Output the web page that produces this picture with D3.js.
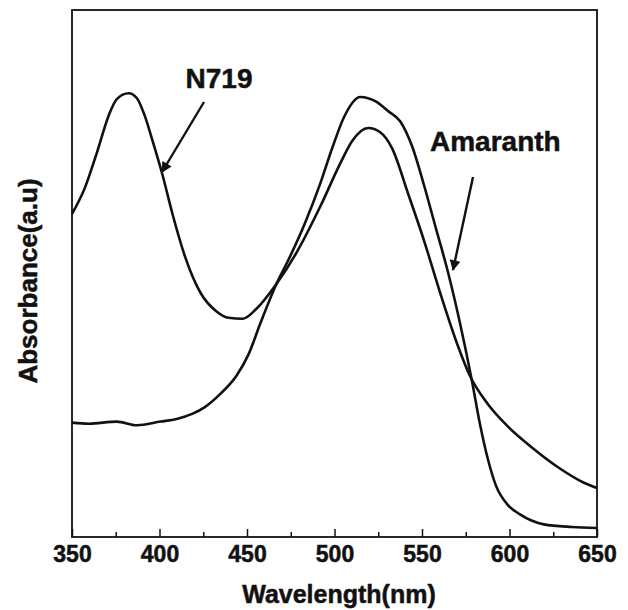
<!DOCTYPE html>
<html>
<head>
<meta charset="utf-8">
<script src="https://cdn.jsdelivr.net/npm/d3@7"></script>
<style>
  body { margin: 0; background: #fff; }
  text { font-family: "Liberation Sans", Arial, sans-serif; font-weight: bold; fill: #111; stroke: #111; stroke-width: 0.5px; }
</style>
</head>
<body>
<div id="chart"></div>
<script>
// wavelength (nm) / absorbance (a.u., normalised)
const n719Wl = [350, 357.3, 364.1, 371, 375.6, 382.4, 387, 391.5, 396, 401.8, 407.5, 414.3, 423.5, 432.6, 439.4, 447.4, 455.4, 466.8, 478.2, 492, 503.3, 510.2, 519.3, 526.1, 533, 542, 551.2, 560.4, 569.5, 577.5, 587.7, 599, 612.8, 628.8, 642.5, 650];
const n719Abs = [0.613, 0.662, 0.728, 0.800, 0.831, 0.842, 0.833, 0.800, 0.752, 0.686, 0.612, 0.535, 0.463, 0.428, 0.416, 0.414, 0.433, 0.480, 0.539, 0.628, 0.709, 0.752, 0.776, 0.768, 0.737, 0.652, 0.562, 0.463, 0.372, 0.305, 0.252, 0.210, 0.170, 0.130, 0.103, 0.093];

const amaWl = [350, 359.6, 375.6, 387, 400.6, 409.8, 419, 425.7, 434.9, 444, 450.8, 457.7, 466.8, 473.7, 482.8, 492, 498.8, 505.6, 514.7, 523.8, 530.7, 537.5, 544.4, 551.2, 558, 564.9, 571.7, 578.6, 583.2, 587.7, 592.2, 599, 606, 619.7, 635.6, 650];
const amaAbs = [0.217, 0.215, 0.219, 0.212, 0.219, 0.224, 0.234, 0.246, 0.272, 0.306, 0.346, 0.406, 0.480, 0.526, 0.593, 0.672, 0.739, 0.798, 0.835, 0.826, 0.808, 0.789, 0.741, 0.667, 0.585, 0.502, 0.406, 0.295, 0.213, 0.147, 0.098, 0.061, 0.043, 0.024, 0.019, 0.017];

const majorTicks = [350, 400, 450, 500, 550, 600, 650];
const minorTicks = [375, 425, 475, 525, 575, 625];

const width = 628, height = 610;
const mLeft = 72, mRight = 597, mTop = 10, mBottom = 537;

const svg = d3.select("#chart").append("svg")
  .attr("width", width)
  .attr("height", height);

const x = d3.scaleLinear().domain([350, 650]).range([mLeft, mRight]);
const y = d3.scaleLinear().domain([0, 1]).range([mBottom, mTop]);

// 下方坐标轴，刻度朝内
const axisG = svg.append("g").attr("transform", `translate(0,${mBottom})`);
axisG.call(d3.axisBottom(x).tickValues(majorTicks).tickSize(-8).tickFormat(d3.format("d")));
axisG.selectAll("path.domain").remove();
axisG.selectAll(".tick line").attr("stroke", "#111").attr("stroke-width", 1.5);
axisG.selectAll(".tick text")
  .attr("font-size", 23)
  .attr("font-family", null)
  .attr("fill", "#111")
  .attr("dy", "0.71em")
  .attr("y", 9);

const minorG = svg.append("g").attr("transform", `translate(0,${mBottom})`);
minorG.call(d3.axisBottom(x).tickValues(minorTicks).tickSize(-5).tickFormat(""));
minorG.selectAll("path.domain").remove();
minorG.selectAll(".tick line").attr("stroke", "#111").attr("stroke-width", 1.5);

// frame
svg.append("rect")
  .attr("x", mLeft).attr("y", mTop)
  .attr("width", mRight - mLeft).attr("height", mBottom - mTop)
  .attr("fill", "none")
  .attr("stroke", "#111")
  .attr("stroke-width", 1.8);

const line = d3.line()
  .x(d => x(d[0]))
  .y(d => y(d[1]))
  .curve(d3.curveMonotoneX);

const series = [
  d3.zip(n719Wl, n719Abs),
  d3.zip(amaWl, amaAbs)
];

svg.selectAll("path.curve")
  .data(series)
  .enter()
  .append("path")
  .attr("class", "curve")
  .attr("d", line)
  .attr("fill", "none")
  .attr("stroke", "#111")
  .attr("stroke-width", 2.6)
  .attr("stroke-linejoin", "round");

// axis titles
svg.append("text")
  .attr("x", 339).attr("y", 603)
  .attr("text-anchor", "middle")
  .attr("font-size", 25)
  .text("Wavelength(nm)");

svg.append("text")
  .attr("transform", "translate(37,281) rotate(-90)")
  .attr("text-anchor", "middle")
  .attr("font-size", 26)
  .text("Absorbance(a.u)");

// annotations + arrows
svg.append("defs").append("marker")
  .attr("id", "arrowhead")
  .attr("viewBox", "0 0 10 10")
  .attr("refX", 9)
  .attr("refY", 5)
  .attr("markerWidth", 7)
  .attr("markerHeight", 4.5)
  .attr("markerUnits", "strokeWidth")
  .attr("orient", "auto")
  .append("path")
  .attr("d", "M 0 0 L 10 5 L 0 10 z")
  .attr("fill", "#111");

svg.append("text")
  .attr("x", 219).attr("y", 88)
  .attr("text-anchor", "middle")
  .attr("font-size", 28)
  .text("N719");

svg.append("line")
  .attr("x1", 204).attr("y1", 102)
  .attr("x2", 162).attr("y2", 172)
  .attr("stroke", "#111")
  .attr("stroke-width", 2.4)
  .attr("marker-end", "url(#arrowhead)");

svg.append("text")
  .attr("x", 430).attr("y", 151)
  .attr("font-size", 28)
  .text("Amaranth");

svg.append("line")
  .attr("x1", 473).attr("y1", 177)
  .attr("x2", 453).attr("y2", 270)
  .attr("stroke", "#111")
  .attr("stroke-width", 2.4)
  .attr("marker-end", "url(#arrowhead)");
</script>
</body>
</html>
